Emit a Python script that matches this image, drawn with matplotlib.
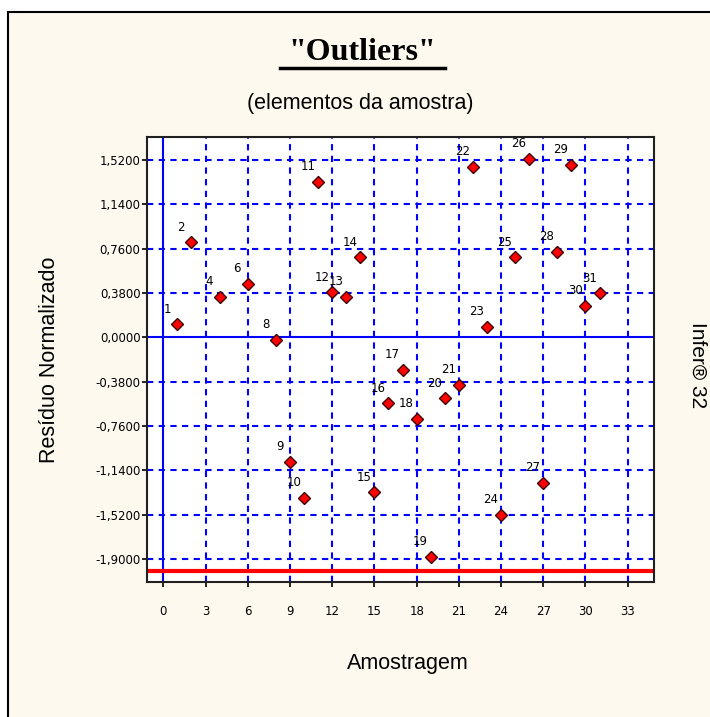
import matplotlib
matplotlib.use("Agg")
import matplotlib.pyplot as plt
from matplotlib.patches import Rectangle
from matplotlib.lines import Line2D

# ---- data ----
sample_ids = [1, 2, 4, 6, 8, 9, 10, 11, 12, 13, 14, 15, 16, 17, 18, 19, 20,
              21, 22, 23, 24, 25, 26, 27, 28, 29, 30, 31]
residuals = [0.111, 0.814, 0.348, 0.457, -0.023, -1.071, -1.375, 1.329, 0.386,
             0.348, 0.686, -1.329, -0.566, -0.280, -0.700, -1.880, -0.523,
             -0.409, 1.460, 0.091, -1.523, 0.686, 1.528, -1.251, 0.734, 1.477,
             0.268, 0.377]
x_ticks = [0, 3, 6, 9, 12, 15, 18, 21, 24, 27, 30, 33]
y_ticks = [1.52, 1.14, 0.76, 0.38, 0.0, -0.38, -0.76, -1.14, -1.52, -1.90]
limit_line = -2.0

title = '"Outliers"'
subtitle = "(elementos da amostra)"
x_label = "Amostragem"
y_label = "Resíduo Normalizado"
side_text = "Infer® 32"

W, H = 710, 717
bg = "#fdf9ef"
blue = "#0000ff"

fig = plt.figure(figsize=(W / 100, H / 100), dpi=100)
fig.patch.set_facecolor("white")

# outer cream frame
frame = Rectangle((8 / W, -0.05), 1.2, 1 - 12 / H + 0.05, transform=fig.transFigure,
                  facecolor=bg, edgecolor="black", linewidth=1.5, zorder=-10)
fig.add_artist(frame)

ax = fig.add_axes([147 / W, 1 - 581.5 / H, (654 - 147) / W, (581.5 - 137) / H])
ax.set_facecolor("white")
ax.set_xlim(-1.16, 34.87)
ax.set_ylim(-2.093, 1.717)

# grid
for xv in x_ticks[1:]:
    ax.axvline(xv, color=blue, lw=1.5, ls=(0, (3, 2.6)), zorder=1)
for yv in y_ticks:
    if yv != 0:
        ax.axhline(yv, color=blue, lw=1.5, ls=(0, (3, 2.6)), zorder=1)
ax.axvline(0, color=blue, lw=1.5, zorder=2)
ax.axhline(0, color=blue, lw=1.5, zorder=2)
ax.axhline(limit_line, color="#ff0000", lw=3, zorder=2)

# points
ax.plot(sample_ids, residuals, ls="none", marker="D", markersize=5.8,
        markerfacecolor="#ff0000", markeredgecolor="#400000", markeredgewidth=1.0,
        zorder=4)
for sid, r in zip(sample_ids, residuals):
    ax.annotate(str(sid), (sid, r), xytext=(-7.5, 11), textcoords="offset points",
                ha="center", va="center", fontsize=8.5, family="DejaVu Sans",
                color="black", zorder=5)

ax.set_xticks(x_ticks)
ax.set_xticklabels([str(v) for v in x_ticks])
ax.set_yticks(y_ticks)
ax.set_yticklabels([f"{v:.4f}".replace(".", ",") for v in y_ticks])
ax.tick_params(axis="x", direction="out", length=3.6, width=1.2, pad=13,
               labelsize=8.5)
ax.tick_params(axis="y", direction="out", length=3.6, width=1.2, pad=1,
               labelsize=8.5)
for lab in ax.get_xticklabels() + ax.get_yticklabels():
    lab.set_family("DejaVu Sans")
for sp in ax.spines.values():
    sp.set_linewidth(1.5)
    sp.set_color("#202020")

# texts
fig.text(362 / W, 1 - 52 / H, title, ha="center", va="center", fontsize=23,
         fontweight="bold", family="Liberation Serif")
fig.add_artist(Line2D([280 / W, 445 / W], [1 - 68 / H, 1 - 68 / H],
                      transform=fig.transFigure, color="black", lw=2.5))
fig.text(360 / W, 1 - 104 / H, subtitle, ha="center", va="center", fontsize=15.5,
         family="Liberation Sans")
fig.text(408 / W, 1 - 663 / H, x_label, ha="center", va="center", fontsize=15.5,
         family="Liberation Sans")
fig.text(50 / W, 1 - 360 / H, y_label, ha="center", va="center", fontsize=15.5,
         rotation=90, family="Liberation Sans")
fig.text(698 / W, 1 - 365 / H, side_text, ha="center", va="center", fontsize=15,
         rotation=270, family="Liberation Sans")

fig.savefig("out.png", dpi=100, facecolor=fig.get_facecolor())
